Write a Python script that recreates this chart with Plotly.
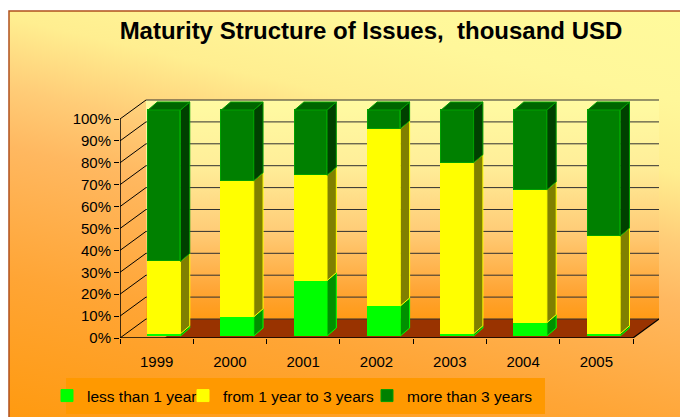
import base64
import plotly.graph_objects as go

# ---------------- data ----------------
categories = ["1999", "2000", "2001", "2002", "2003", "2004", "2005"]
less_than_1y = [1.0, 8.5, 24.5, 13.3, 1.0, 5.9, 1.0]
from_1_to_3y = [32.0, 60.2, 46.6, 78.4, 75.7, 58.8, 43.2]
more_than_3y = [67.0, 31.3, 28.9, 8.3, 23.3, 35.3, 55.8]
series_names = ["less than 1 year", "from 1 year to 3 years", "more than 3 years"]
y_tick_values = [0, 10, 20, 30, 40, 50, 60, 70, 80, 90, 100]
y_tick_labels = [f"{v}%" for v in y_tick_values]
title_text = "Maturity Structure of Issues,\u00a0 thousand USD"

# ---------------- styling / geometry ----------------
W, H = 680, 417
FONT = "Liberation Sans, Arial, sans-serif"
front_colors = ["#00FF00", "#FFFF00", "#008000"]
side_colors = ["#009000", "#808000", "#004000"]
edge_colors = ["#00FF00", "#FFFF00", "#00A000"]
top_color = "#006400"

px_front_left, px_front_right = 120, 633
px_depth_x, px_depth_y = 26, 19
px_floor, px_100, px_top = 338, 119, 85
px_bar_bottom, px_bar_top = 336, 110
n = len(categories)
cat_px = (px_front_right - px_front_left) / n
x_lo = -0.5
x_hi = -0.5 + (px_front_right + px_depth_x - px_front_left) / cat_px
depth_x = px_depth_x / cat_px
y_px_per = (px_floor - px_100) / 100.0
depth_y = px_depth_y / y_px_per
y_hi = (px_floor - px_top) / y_px_per
y2_px_per = (px_bar_bottom - px_bar_top) / 100.0
y2_lo = -(px_floor - px_bar_bottom) / y2_px_per
y2_hi = (px_bar_bottom - px_top) / y2_px_per

bar_offset = -0.118
bar_width = 0.443
bar_dx = 9.3 / cat_px
bar_dy = 8.0 / y2_px_per
label_shift = 0.0

x_dom = [px_front_left / W, (px_front_right + px_depth_x) / W]
y_dom = [(H - px_floor) / H, (H - px_top) / H]

idx = list(range(n))
series = [less_than_1y, from_1_to_3y, more_than_3y]


def svg_uri(stops, x1, y1, x2, y2):
    st = "".join(f'<stop offset="{o}" stop-color="{c}"/>' for o, c in stops)
    svg = (f'<svg xmlns="http://www.w3.org/2000/svg" width="100" height="100" '
           f'viewBox="0 0 100 100" preserveAspectRatio="none">'
           f'<defs><linearGradient id="g" x1="{x1}" y1="{y1}" x2="{x2}" y2="{y2}">{st}'
           f'</linearGradient></defs><rect width="100" height="100" fill="url(#g)"/></svg>')
    return "data:image/svg+xml;base64," + base64.b64encode(svg.encode()).decode()


area_grad = svg_uri([(0, "#FFFA9C"), (0.16, "#FFF79A"), (0.29, "#FFEE90"),
                     (0.415, "#FFCC77"), (0.52, "#FFB860"), (0.75, "#FFA535"),
                     (1, "#FF9A10")], 1, 0, 0.5355, 1.2065)
wall_grad = svg_uri([(0, "#FFFBA2"), (0.3, "#FFEE99"), (0.6, "#FFCC77"),
                     (0.87, "#FFA535"), (1, "#FF9A15")], 0, 0, 0, 1)

fig = go.Figure()

# front faces (stacked bars)
for k in range(3):
    fig.add_trace(go.Bar(
        x=idx, y=series[k], name=series_names[k],
        offset=bar_offset, width=bar_width,
        marker=dict(color=front_colors[k], line=dict(color=edge_colors[k], width=1)),
        xaxis="x", yaxis="y2", legend=["legend", "legend2", "legend3"][k],
        hoverinfo="skip",
    ))

# side faces
cum = [0.0] * n
for k in range(3):
    xs, ys = [], []
    for i in idx:
        y0 = cum[i]
        y1 = cum[i] + series[k][i]
        xr = i + bar_offset + bar_width
        xs += [xr, xr, xr + bar_dx, xr + bar_dx, xr, None]
        ys += [y0, y1, y1 + bar_dy, y0 + bar_dy, y0, None]
        cum[i] = y1
    fig.add_trace(go.Scatter(
        x=xs, y=ys, mode="lines", fill="toself", fillcolor=side_colors[k],
        line=dict(color=edge_colors[k], width=1), xaxis="x", yaxis="y2",
        showlegend=False, hoverinfo="skip",
    ))

# top faces of the stack
xs, ys = [], []
for i in idx:
    xl = i + bar_offset
    xr = xl + bar_width
    t = cum[i]
    xs += [xl, xr, xr + bar_dx, xl + bar_dx, xl, None]
    ys += [t, t, t + bar_dy, t + bar_dy, t, None]
fig.add_trace(go.Scatter(
    x=xs, y=ys, mode="lines", fill="toself", fillcolor=top_color,
    line=dict(color="#00A000", width=1), xaxis="x", yaxis="y2",
    showlegend=False, hoverinfo="skip",
))

shapes = []
# chart frame
shapes.append(dict(type="rect", xref="paper", yref="paper", x0=9 / W, x1=1.2,
                   y0=-0.2, y1=1 - 11 / H, line=dict(color="#B0501E", width=1.5),
                   fillcolor="rgba(0,0,0,0)", layer="below"))
# legend box
shapes.append(dict(type="rect", xref="paper", yref="paper", x0=66 / W, x1=545 / W,
                   y0=1 - 414 / H, y1=1 - 378 / H, line=dict(width=0),
                   fillcolor="#FF9900", layer="below"))
# floor (brown)
fl = 0 + bar_offset + bar_width / 2
shapes.append(dict(type="path", xref="x", yref="y",
                   path=f"M{fl},0 L{n - 0.5},0 L{n - 0.5 + depth_x},{depth_y} L{fl + depth_x},{depth_y} Z",
                   fillcolor="#993300", line=dict(width=0), layer="between"))
# gridlines: back wall + left wall
for v in y_tick_values:
    shapes.append(dict(type="line", xref="x", yref="y", x0=x_lo + depth_x, x1=x_hi,
                       y0=v + depth_y, y1=v + depth_y,
                       line=dict(color="#303030", width=1), layer="between"))
    shapes.append(dict(type="line", xref="x", yref="y", x0=x_lo, x1=x_lo + depth_x,
                       y0=v, y1=v + depth_y,
                       line=dict(color="#000000", width=1), layer="between"))
# axes lines
shapes.append(dict(type="line", xref="x", yref="y", x0=x_lo, x1=x_lo, y0=0, y1=100,
                   line=dict(color="black", width=1.5), layer="between"))
shapes.append(dict(type="line", xref="x", yref="y", x0=x_lo, x1=n - 0.5, y0=0, y1=0,
                   line=dict(color="black", width=1.5), layer="between"))
shapes.append(dict(type="line", xref="x", yref="y", x0=n - 0.5, x1=x_hi, y0=0, y1=depth_y,
                   line=dict(color="black", width=1.2), layer="between"))

images = [
    dict(source=area_grad, xref="paper", yref="paper", x=9 / W, y=1 - 11 / H,
         sizex=(W - 9) / W, sizey=(H - 11) / H, xanchor="left", yanchor="top",
         sizing="stretch", layer="below"),
    dict(source=wall_grad, xref="x", yref="y", x=x_lo + depth_x, y=100 + depth_y,
         sizex=x_hi - (x_lo + depth_x), sizey=100, xanchor="left", yanchor="top",
         sizing="stretch", layer="below"),
]

leg_font = dict(family=FONT, size=15.5, color="black")
leg_common = dict(orientation="h", bgcolor="rgba(0,0,0,0)", borderwidth=0,
                  font=leg_font, yanchor="middle", y=1 - 396 / H, xanchor="left",
                  itemclick=False, itemdoubleclick=False)

fig.update_layout(
    width=W, height=H,
    margin=dict(l=0, r=0, t=0, b=0, autoexpand=False),
    paper_bgcolor="white", plot_bgcolor="rgba(0,0,0,0)",
    barmode="stack",
    bargap=0,
    showlegend=True,
    title=dict(text=f"<b>{title_text}</b>", x=371 / W, xanchor="center",
               y=1 - 31 / H, yanchor="middle",
               font=dict(family=FONT, size=24, color="black")),
    xaxis=dict(domain=x_dom, range=[x_lo, x_hi], showgrid=False, zeroline=False,
               showline=False, tickmode="array",
               tickvals=[i + label_shift for i in idx], ticktext=categories,
               ticks="", ticklabelstandoff=13,
               tickfont=dict(family=FONT, size=15, color="black"),
               minor=dict(tickmode="array", tickvals=[i - 0.5 for i in range(n + 1)],
                          ticks="outside", ticklen=5, tickcolor="black", tickwidth=1.2,
                          showgrid=False),
               fixedrange=True),
    yaxis=dict(domain=y_dom, range=[0, y_hi], showgrid=False, zeroline=False,
               showline=False, tickmode="array", tickvals=y_tick_values,
               ticktext=y_tick_labels, ticks="outside", ticklen=5, tickcolor="black",
               tickwidth=1.2, tickfont=dict(family=FONT, size=15, color="black"),
               fixedrange=True),
    yaxis2=dict(domain=y_dom, range=[y2_lo, y2_hi], overlaying="y", visible=False,
                fixedrange=True),
    legend=dict(x=47 / W, **leg_common),
    legend2=dict(x=183 / W, **leg_common),
    legend3=dict(x=367 / W, **leg_common),
    shapes=shapes,
    images=images,
)

fig.write_html("out.html", config={"displayModeBar": False},
               post_script="document.body.style.margin='0';document.body.style.padding='0';")
